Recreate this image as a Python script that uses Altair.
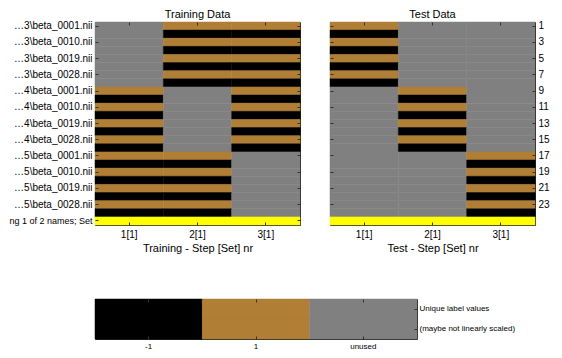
import json
import altair as alt
import pandas as pd

# ---------------- data ----------------
columns = ["1[1]", "2[1]", "3[1]"]
# label of the rows inside each block of 8 rows (odd rows = 1, even rows = -1)
stripe_labels = ["1", "-1", "1", "-1", "1", "-1", "1", "-1"]
# columns in which each block (rows 1-8, 9-16, 17-24) is used
train_used_cols = [["2[1]", "3[1]"], ["1[1]", "3[1]"], ["1[1]", "2[1]"]]
test_used_cols = [["1[1]"], ["2[1]"], ["3[1]"]]
set_row = 25

row_names = [
    "…3\\beta_0001.nii", "…3\\beta_0010.nii", "…3\\beta_0019.nii", "…3\\beta_0028.nii",
    "…4\\beta_0001.nii", "…4\\beta_0010.nii", "…4\\beta_0019.nii", "…4\\beta_0028.nii",
    "…5\\beta_0001.nii", "…5\\beta_0010.nii", "…5\\beta_0019.nii", "…5\\beta_0028.nii",
    "ng 1 of 2 names; Set",
]
left_tick_rows = [1, 3, 5, 7, 9, 11, 13, 15, 17, 19, 21, 23, 25]
right_tick_rows = [1, 3, 5, 7, 9, 11, 13, 15, 17, 19, 21, 23]

label_values = ["-1", "1", "unused", "set"]
label_colors = ["#000000", "#b07e35", "#808080", "#ffff00"]
cbar_values = ["-1", "1", "unused"]
cbar_rows = ["Unique label values", "(maybe not linearly scaled)"]


def build(used_cols):
    recs = []
    for b, used in enumerate(used_cols):
        for i, lab in enumerate(stripe_labels):
            row = b * len(stripe_labels) + i + 1
            for c in columns:
                recs.append({"row": row, "col": c, "val": lab if c in used else "unused"})
    for c in columns:
        recs.append({"row": set_row, "col": c, "val": "set"})
    return pd.DataFrame(recs)


train_df = build(train_used_cols)
test_df = build(test_used_cols)

cscale = alt.Scale(domain=label_values, range=label_colors)
FS = 10
LAST_FS = 9
TICK = dict(ticks=True, tickSize=3, offset=-3, tickColor="#333333", tickWidth=1,
            domain=False, zindex=1)


def xaxis(title, orient="bottom", labels=True):
    return alt.Axis(title=title, orient=orient, labels=labels, labelAngle=0, labelPadding=4,
                    titlePadding=3, labelFontSize=FS, titleFontSize=11,
                    titleFontWeight="normal", **TICK)


def panel(df, title, xtitle, yvalues, label_side, labelExpr=None):
    other = "right" if label_side == "left" else "left"
    ykw = dict(title=None, values=yvalues, labelPadding=3, labelFontSize=FS, **TICK)
    if labelExpr:
        ykw["labelExpr"] = labelExpr
        ykw["labelFontSize"] = {"condition": {"test": f"datum.value == {set_row}", "value": LAST_FS},
                                "value": FS}
    main = alt.Chart(df).mark_rect(strokeWidth=0.5).encode(
        x=alt.X("col:N", sort=columns, axis=xaxis(xtitle)),
        y=alt.Y("row:O", axis=alt.Axis(orient=label_side, **ykw)),
        color=alt.Color("val:N", scale=cscale, legend=None),
        stroke=alt.Color("val:N", scale=cscale, legend=None),
    )
    mirror = alt.Chart(df).mark_rect(opacity=0).encode(
        x=alt.X("col:N", sort=columns, axis=xaxis(None, "top", False)),
        y=alt.Y("row:O", axis=alt.Axis(orient=other, title=None, values=yvalues,
                                       labels=False, **TICK)),
    )
    return alt.layer(main, mirror).resolve_axis(x="independent", y="independent").properties(
        width=205, height=203,
        title=alt.Title(title, fontSize=11, fontWeight="normal", offset=1))


left_expr = json.dumps(row_names, ensure_ascii=False) + "[(datum.value-1)/2]"
train = panel(train_df, "Training Data", "Training - Step [Set] nr", left_tick_rows, "left", left_expr)
test = panel(test_df, "Test Data", "Test - Step [Set] nr", right_tick_rows, "right")
top = alt.hconcat(train, test, spacing=28)

cb_df = pd.DataFrame([{"v": v, "r": r, "d": "x"} for r in cbar_rows for v in cbar_values])
cb_x = alt.X("v:N", sort=cbar_values, axis=alt.Axis(title=None, labelAngle=0, labelFontSize=8,
                                                    labelPadding=3, **TICK))
cb_main = alt.Chart(cb_df).mark_rect(strokeWidth=0.5).encode(
    x=cb_x,
    y=alt.Y("r:N", sort=cbar_rows, axis=alt.Axis(title=None, orient="right", labelFontSize=8,
                                                 labelPadding=2, **TICK)),
    color=alt.Color("v:N", scale=cscale, legend=None),
    stroke=alt.Color("v:N", scale=cscale, legend=None),
)
cb_spacer = alt.Chart(cb_df).mark_rect(opacity=0).encode(
    x=alt.X("v:N", sort=cbar_values, axis=alt.Axis(title=None, orient="top", labels=False, **TICK)),
    y=alt.Y("d:N", axis=alt.Axis(title=None, orient="left", ticks=True, tickSize=3, offset=-3,
                                 tickColor="transparent", domain=False,
                                 labelFontSize=LAST_FS, labelPadding=3, labelColor="transparent",
                                 labelExpr=json.dumps(row_names[-1]))),
)
cbar = alt.layer(cb_main, cb_spacer).resolve_scale(y="independent").resolve_axis(
    x="independent", y="independent").properties(width=322, height=40)

chart = alt.vconcat(top, cbar, spacing=44).properties(padding=0).configure(
    font="Liberation Sans"
).configure_view(
    stroke="#222222", strokeWidth=1
).configure_axis(labelColor="#000000", titleColor="#000000").configure_title(color="#000000")

chart.save("out.html", embed_options={"renderer": "svg", "actions": False})
